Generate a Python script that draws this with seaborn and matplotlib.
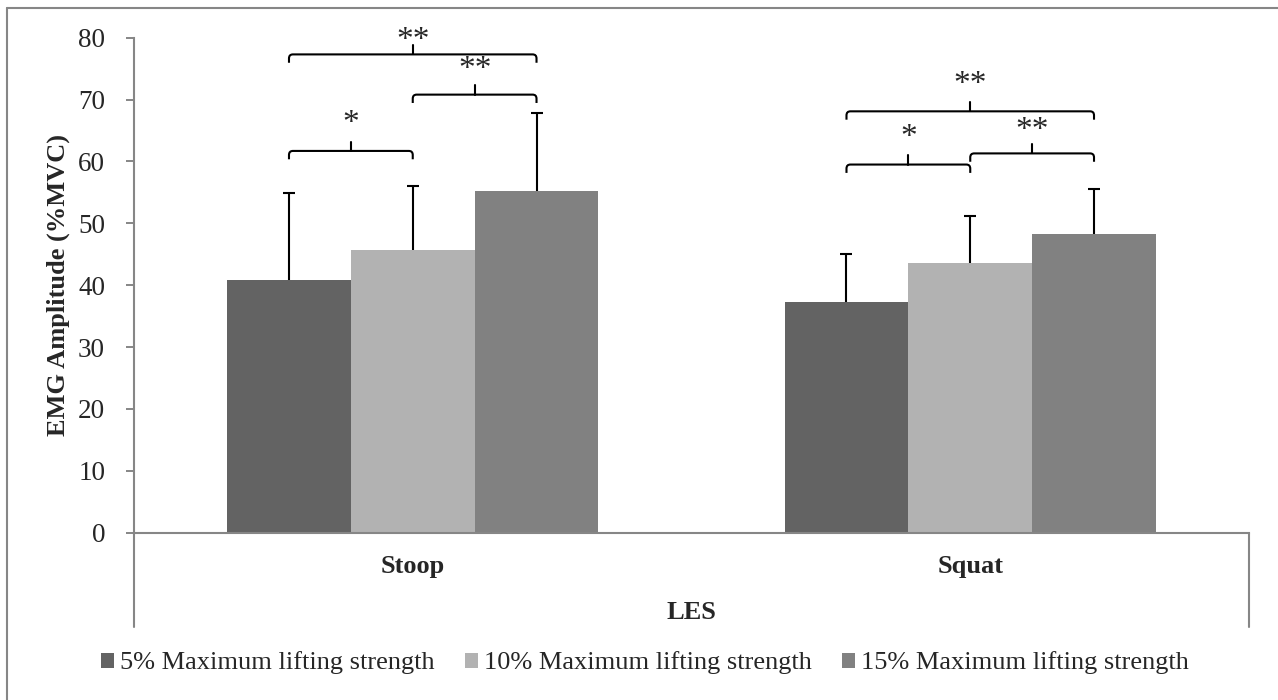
import pandas as pd
import matplotlib
matplotlib.use('Agg')
import matplotlib.pyplot as plt
from matplotlib.path import Path
from matplotlib.patches import PathPatch
from matplotlib.lines import Line2D
from matplotlib.container import BarContainer
import seaborn as sns

# dados
postures = ['Stoop', 'Squat']
levels = ['5% Maximum lifting strength', '10% Maximum lifting strength', '15% Maximum lifting strength']
stoop_mean = [40.9, 45.7, 55.3]
stoop_sd = [14.0, 10.4, 12.6]
squat_mean = [37.3, 43.6, 48.3]
squat_sd = [7.8, 7.6, 7.2]
bar_colors = ['#636363', '#b2b2b2', '#818181']

# comparacoes significativas (chaves)
bracket_posture = ['Stoop', 'Stoop', 'Stoop', 'Squat', 'Squat', 'Squat']
bracket_from = [0, 1, 0, 0, 1, 0]
bracket_to = [1, 2, 2, 1, 2, 2]
bracket_y = [61.7, 70.8, 77.3, 59.5, 61.3, 68.1]
bracket_label = ['*', '**', '**', '*', '**', '**']
label_y = [67.5, 76.1, 80.9, 65.2, 66.4, 73.8]

rows = []
for p, means, sds in zip(postures, [stoop_mean, squat_mean], [stoop_sd, squat_sd]):
    for lv, m, s in zip(levels, means, sds):
        rows.append({'posture': p, 'level': lv, 'amp': m, 'sd': s})
df = pd.DataFrame(rows)

sns.set_style('white')
plt.rcParams['font.family'] = ['Liberation Serif', 'DejaVu Serif']

W, H = 1278, 700
fig = plt.figure(figsize=(W / 100, H / 100), dpi=100)
left, right, top, bottom = 134, 1249, 37.7, 532.7
ax = fig.add_axes([left / W, 1 - bottom / H, (right - left) / W, (bottom - top) / H])

sns.barplot(data=df, x='posture', y='amp', hue='level', order=postures, hue_order=levels,
            palette=bar_colors, saturation=1, width=0.666, errorbar=None, ax=ax, legend=True,
            linewidth=0)

grey = '#868686'
ax.set_ylim(0, 80)
ax.set_xlim(-0.5, 1.5)
ax.set_yticks(range(0, 81, 10))
ax.tick_params(axis='y', labelsize=19.5, length=5.8, width=1.4, color=grey, pad=15, left=True)
ax.tick_params(axis='x', labelsize=19, length=0, pad=16)
for lab in ax.get_xticklabels():
    lab.set_fontweight('bold')
for s in ['top', 'right']:
    ax.spines[s].set_visible(False)
for s in ['left', 'bottom']:
    ax.spines[s].set_color(grey)
    ax.spines[s].set_linewidth(1.5)
ax.spines['bottom'].set_zorder(5)

# linhas do eixo abaixo do zero (estilo Excel)
ext = -94.3 / (bottom - top)
ax.add_line(Line2D([0, 0], [ext, 0], transform=ax.transAxes, color=grey, lw=1.5, clip_on=False))
ax.add_line(Line2D([1, 1], [ext, 0], transform=ax.transAxes, color=grey, lw=1.5, clip_on=False))

ax.set_ylabel('EMG Amplitude (%MVC)', fontsize=19, fontweight='bold', va='center')
ax.yaxis.set_label_coords((58 - left) / (right - left), 0.5)
ax.set_xlabel('LES', fontsize=19, fontweight='bold', va='top')
ax.xaxis.set_label_coords(0.5, -(601 - bottom) / (bottom - top))

# barras de erro (so para cima)
bar_conts = [c for c in ax.containers if isinstance(c, BarContainer)]
centers = {}
for hi, cont in enumerate(bar_conts):
    for ci, patch in enumerate(cont.patches):
        xc = patch.get_x() + patch.get_width() / 2
        centers[(postures[ci], hi)] = xc
        row = df[(df.posture == postures[ci]) & (df.level == levels[hi])].iloc[0]
        eb = ax.errorbar(xc, row.amp, yerr=[[0], [row.sd]], fmt='none', ecolor='black',
                         elinewidth=1.5, capsize=4.3, capthick=1.5)
        eb[1][0].set_visible(False)  # tira o cap de baixo


def bracket(x0, x1, y, drop=1.35, rise=1.5, rx=0.007, ry=0.65):
    verts = [(x0, y - drop), (x0, y - ry), (x0, y), (x0 + rx, y), (x1 - rx, y),
             (x1, y), (x1, y - ry), (x1, y - drop)]
    codes = [Path.MOVETO, Path.LINETO, Path.CURVE3, Path.CURVE3, Path.LINETO,
             Path.CURVE3, Path.CURVE3, Path.LINETO]
    ax.add_patch(PathPatch(Path(verts, codes), fill=False, lw=1.5, edgecolor='black',
                           capstyle='butt', clip_on=False))
    xm = (x0 + x1) / 2
    ax.plot([xm, xm], [y, y + rise], color='black', lw=1.5, clip_on=False)
    return xm


for p, a, b, yb, lab, yl in zip(bracket_posture, bracket_from, bracket_to, bracket_y, bracket_label, label_y):
    xm = bracket(centers[(p, a)], centers[(p, b)], yb)
    ax.annotate(lab, (xm, yl), xytext=(0, -12), textcoords='offset points',
                ha='center', va='baseline', fontsize=24, annotation_clip=False)

# legenda
ax.legend(loc='center', bbox_to_anchor=(645 / W, 1 - 663 / H), bbox_transform=fig.transFigure,
          ncol=3, frameon=False, fontsize=19, handlelength=0.5, handleheight=0.5,
          handletextpad=0.22, columnspacing=1.14, borderaxespad=0, title=None)

# moldura (so esquerda e topo visiveis)
fig.add_artist(Line2D([7 / W, 7 / W], [0, 1 - 8 / H], color=grey, lw=1.5))
fig.add_artist(Line2D([7 / W, 1], [1 - 8 / H, 1 - 8 / H], color=grey, lw=1.5))

fig.savefig('out.png', dpi=100)
